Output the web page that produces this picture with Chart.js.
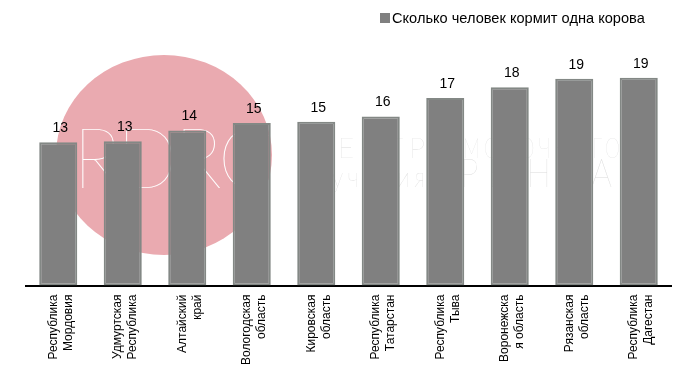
<!DOCTYPE html>
<html>
<head>
<meta charset="utf-8">
<script src="https://cdn.jsdelivr.net/npm/chart.js@4.4.1/dist/chart.umd.min.js"></script>
<style>
  html, body { margin: 0; padding: 0; background: #fff; }
  #wrap { width: 695px; height: 373px; }
</style>
</head>
<body>
<div id="wrap"><canvas id="cowChart" width="695" height="373"></canvas></div>
<script>
// --- Data ---
const regions = [
    ['Республика', 'Мордовия'],
    ['Удмуртская', 'Республика'],
    ['Алтайский', 'край'],
    ['Вологодская', 'область'],
    ['Кировская', 'область'],
    ['Республика', 'Татарстан'],
    ['Республика', 'Тыва'],
    ['Воронежска', 'я область'],
    ['Рязанская', 'область'],
    ['Республика', 'Дагестан']
];
const peoplePerCow = [13.3, 13.4, 14.4, 15.1, 15.2, 15.7, 17.4, 18.4, 19.2, 19.3];
const seriesName = 'Сколько человек кормит одна корова';

const FONT = "'Liberation Sans', Arial, sans-serif";
const THIN = "Lato, 'Open Sans', sans-serif";

// draw text squeezed/stretched so it spans x0..x1
function fitText(ctx, text, x0, x1, y, spacing) {
    ctx.letterSpacing = spacing + 'px';
    const w = ctx.measureText(text).width - spacing;
    ctx.save();
    ctx.translate(x0, y);
    ctx.scale((x1 - x0) / w, 1);
    ctx.fillText(text, 0, 0);
    ctx.restore();
}

// watermark behind the bars (logo)
const watermark = {
    id: 'watermark',
    beforeDatasetsDraw(chart) {
        const ctx = chart.ctx;
        ctx.save();
        ctx.fillStyle = '#eaaab0';
        ctx.beginPath();
        ctx.ellipse(164, 155, 108, 100, 0, 0, Math.PI * 2);
        ctx.fill();

        ctx.textBaseline = 'alphabetic';
        ctx.fillStyle = '#ffffff';
        ctx.font = '200 84px ' + THIN;
        fitText(ctx, 'RDRC', 73, 273, 188, -4);

        ctx.fillStyle = '#dcdcdc';
        ctx.font = '200 28px ' + THIN;
        fitText(ctx, 'ЦЕНТР', 311, 425, 158, 6);
        fitText(ctx, 'МОЛОЧНОГО', 463, 620, 158, 6);
        fitText(ctx, 'изучения', 300, 425, 187, 5);
        ctx.font = '200 40px ' + THIN;
        fitText(ctx, 'РЫНКА', 460, 612, 187, 12);
        ctx.restore();
    }
};

// value labels above bars + legend at top right
const valueLabels = {
    id: 'valueLabels',
    afterDatasetsDraw(chart) {
        const ctx = chart.ctx;
        const meta = chart.getDatasetMeta(0);
        ctx.save();
        ctx.fillStyle = '#000';
        ctx.font = '14px ' + FONT;
        ctx.textAlign = 'center';
        ctx.textBaseline = 'alphabetic';
        meta.data.forEach((bar, i) => {
            ctx.fillText(Math.round(peoplePerCow[i]), bar.x + 2, bar.y - 10);
        });

        // legend
        const ds = chart.data.datasets[0];
        ctx.fillStyle = ds.backgroundColor;
        ctx.fillRect(380, 13, 10, 10);
        ctx.fillStyle = '#000';
        ctx.textAlign = 'left';
        ctx.font = '14.6px ' + FONT;
        ctx.fillText(ds.label, 392, 22.5);
        ctx.restore();
    }
};

new Chart(document.getElementById('cowChart'), {
    type: 'bar',
    data: {
        labels: regions,
        datasets: [{
            label: seriesName,
            data: peoplePerCow,
            backgroundColor: '#808080',
            borderColor: '#838885',
            borderWidth: 2,
            borderSkipped: false,
            barPercentage: 0.59,
            categoryPercentage: 1
        }]
    },
    options: {
        responsive: false,
        animation: false,
        layout: { padding: { left: 26, right: 24, top: 27, bottom: 7 } },
        scales: {
            y: { display: false, min: 0, max: 24 },
            x: {
                grid: { display: false },
                border: { display: true, color: '#000', width: 2 },
                ticks: {
                    color: '#000',
                    font: { family: FONT, size: 12, lineHeight: 1.25 },
                    minRotation: 90,
                    maxRotation: 90,
                    autoSkip: false,
                    padding: 1,
                    labelOffset: -5
                }
            }
        },
        plugins: {
            legend: { display: false },
            tooltip: { enabled: false }
        }
    },
    plugins: [watermark, valueLabels]
});
</script>
</body>
</html>
